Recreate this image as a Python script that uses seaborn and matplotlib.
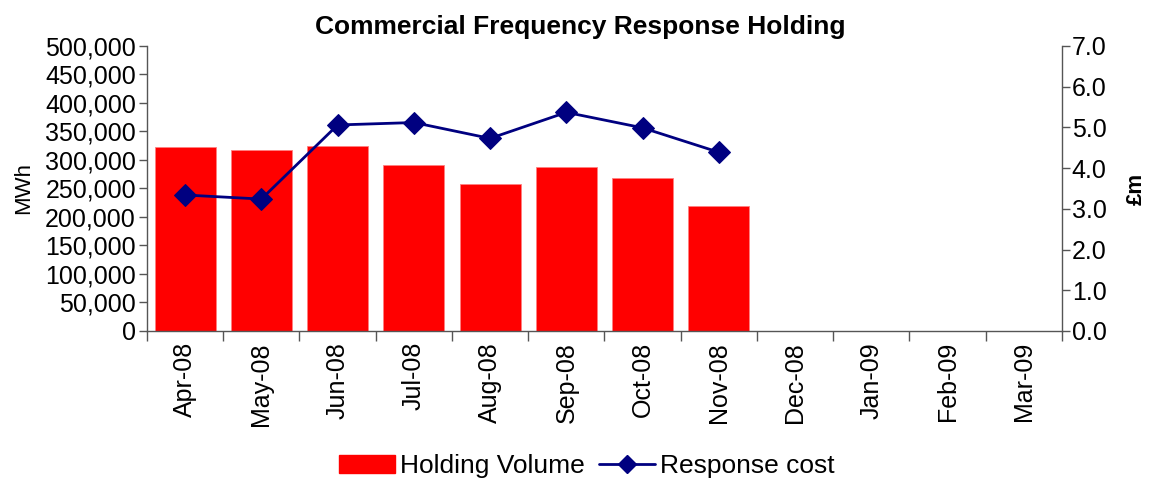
import matplotlib
matplotlib.use("Agg")
import matplotlib.pyplot as plt
import numpy as np
import pandas as pd
import seaborn as sns
from matplotlib.ticker import FuncFormatter, FixedLocator, NullFormatter
from matplotlib.lines import Line2D
from matplotlib.patches import Patch

# data
months = ["Apr-08", "May-08", "Jun-08", "Jul-08", "Aug-08", "Sep-08",
          "Oct-08", "Nov-08", "Dec-08", "Jan-09", "Feb-09", "Mar-09"]
holding_volume = [323000, 317000, 324000, 292000, 257000, 288000,
                  269000, 220000, 0, 0, 0, 0]
cost_months = months[:8]
response_cost = [3.34, 3.24, 5.06, 5.12, 4.73, 5.37, 4.99, 4.39]

sns.set_style("white")
plt.rcParams["font.family"] = ["Liberation Sans", "DejaVu Sans"]
plt.rcParams["text.color"] = "black"
plt.rcParams["xtick.color"] = "black"
plt.rcParams["ytick.color"] = "black"
plt.rcParams["axes.labelcolor"] = "black"

fig = plt.figure(figsize=(11.53, 4.79), dpi=100)
ax = fig.add_axes([0.1275, 0.309, 0.7935, 0.595])

bars = pd.DataFrame({"month": months, "volume": holding_volume})
sns.barplot(data=bars, x="month", y="volume", order=months, color="#ff0000",
            saturation=1, width=0.8, edgecolor="#ff8080", linewidth=0.6, ax=ax)

ax2 = ax.twinx()
pos = {m: i for i, m in enumerate(months)}
line = pd.DataFrame({"x": [pos[m] for m in cost_months], "cost": response_cost})
sns.lineplot(data=line, x="x", y="cost", color="#000080", marker="D",
             markersize=11, markeredgecolor="#000080", linewidth=2, ax=ax2)

ax.set_xlim(-0.5, len(months) - 0.5)
ax.set_ylim(0, 500000)
ax.set_yticks(np.arange(0, 500001, 50000))
ax.yaxis.set_major_formatter(FuncFormatter(lambda v, p: f"{int(v):,}"))
ax2.set_ylim(0, 7)
ax2.set_yticks(np.arange(0, 7.01, 1))
ax2.yaxis.set_major_formatter(FuncFormatter(lambda v, p: f"{v:.1f}"))

# Excel-style category ticks between the bars
ax.xaxis.set_minor_locator(FixedLocator(np.arange(-0.5, len(months), 1)))
ax.xaxis.set_minor_formatter(NullFormatter())
ax.tick_params(axis="x", which="major", length=0, labelsize=18, rotation=90, pad=8)
ax.tick_params(axis="x", which="minor", length=7, width=1, color="#555555", bottom=True)
ax.tick_params(axis="y", length=6, width=1, color="#555555", labelsize=18, left=True, pad=2)
ax2.tick_params(axis="y", length=6, width=1, color="#555555", labelsize=18, right=True, pad=1)

ax.set_xlabel("")
ax.set_ylabel("MWh", fontsize=16, labelpad=8)
ax2.set_xlabel("")
ax2.set_ylabel("£m", fontsize=16, fontweight="bold", labelpad=14)

for a in (ax, ax2):
    a.spines["top"].set_visible(False)
    for s in ("left", "right", "bottom"):
        a.spines[s].set_color("#555555")
        a.spines[s].set_linewidth(1)
ax.spines["right"].set_visible(False)
ax2.spines["left"].set_visible(False)
ax2.spines["bottom"].set_visible(False)

fig.suptitle("Commercial Frequency Response Holding", x=0.503, y=0.944,
             va="center", fontsize=19, fontweight="bold")

handles = [Patch(color="#ff0000", label="Holding Volume"),
           Line2D([], [], color="#000080", marker="D", markersize=9,
                  linewidth=2, label="Response cost")]
fig.legend(handles=handles, loc="center", bbox_to_anchor=(0.509, 0.027),
           ncol=2, frameon=False, fontsize=19, handlelength=2.1,
           columnspacing=0.55, handletextpad=0.2, borderpad=0)

fig.savefig("out.png", dpi=100)
